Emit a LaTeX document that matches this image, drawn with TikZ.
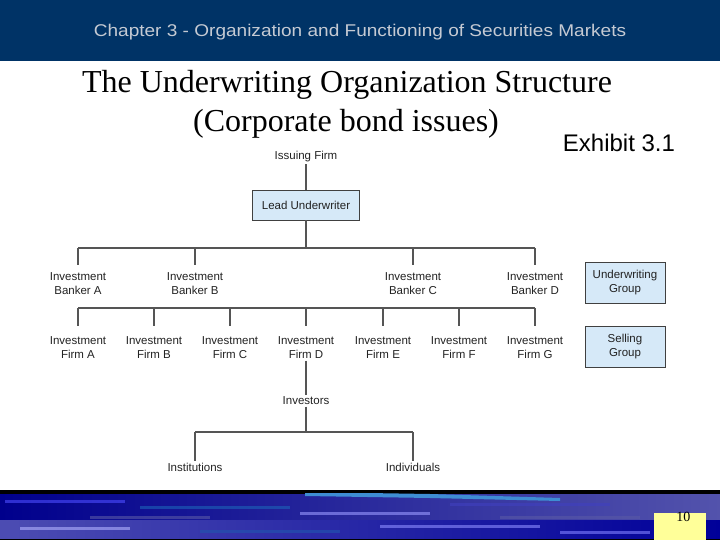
\documentclass[tikz,border=0pt]{standalone}
\usepackage{fontspec}
\setmainfont{Liberation Serif}
\setsansfont{Liberation Sans}
\newfontfamily\arialf{Liberation Sans}
\definecolor{hdr}{HTML}{003366}
\definecolor{hdrtxt}{HTML}{C5CAD3}
\definecolor{boxfill}{HTML}{D6E9F8}
\definecolor{linec}{HTML}{555555}
\definecolor{txtc}{HTML}{222222}
\definecolor{pgyel}{HTML}{FFFF99}
\begin{document}
\begin{tikzpicture}[x=1pt,y=-1pt,
  lbl/.style={font=\arialf\fontsize{11.5}{14}\selectfont, text=txtc, align=center, inner sep=1.5pt},
  gbox/.style={lbl, draw=black!75, fill=boxfill, line width=0.9pt, minimum width=80pt, minimum height=41pt},
  conn/.style={draw=linec, line width=1.2pt}]
\useasboundingbox (0,0) rectangle (720,540);
% header
\fill[hdr] (0,0) rectangle (720,61);
\node[text=hdrtxt, font=\arialf\fontsize{17}{19}\selectfont] (hdrt) at (360,32.5) {\scalebox{1.12}[1]{Chapter 3 - Organization and Functioning of Securities Markets}};
% title
\node[font=\fontsize{32}{36}\selectfont, text=black, align=center] (title1) at (347,85) {The Underwriting Organization Structure};
\node[font=\fontsize{32}{36}\selectfont, text=black] (title2) at (346,124) {(Corporate bond issues)};
\node[font=\arialf\fontsize{24}{28}\selectfont, text=black] (exh) at (619,143) {Exhibit 3.1};
% diagram
\node[lbl] (issuer) at (306,157) {Issuing Firm};
\node[gbox, minimum width=107pt, minimum height=30pt] (lead) at (306,205) {Lead Underwriter};
\coordinate (j1) at (306,248);
\draw[conn] (issuer.south) -- (lead.north);
\draw[conn] (lead.south) -- (j1);
\node[lbl] (bA) at (78,284) {Investment\\Banker A};
\node[lbl] (bB) at (195,284) {Investment\\Banker B};
\node[lbl] (bC) at (413,284) {Investment\\Banker C};
\node[lbl] (bD) at (535,284) {Investment\\Banker D};
\coordinate (hA) at (78,248);
\coordinate (hD) at (535,248);
\draw[conn] (hA) -- (hD);
\foreach \x in {78,195,413,535}{
  \draw[conn] (\x,248) -- (\x,265);
}
\node[lbl] (fA) at (78,348) {Investment\\Firm A};
\node[lbl] (fB) at (154,348) {Investment\\Firm B};
\node[lbl] (fC) at (230,348) {Investment\\Firm C};
\node[lbl] (fD) at (306,348) {Investment\\Firm D};
\node[lbl] (fE) at (383,348) {Investment\\Firm E};
\node[lbl] (fF) at (459,348) {Investment\\Firm F};
\node[lbl] (fG) at (535,348) {Investment\\Firm G};
\draw[conn] (78,308) -- (535,308);
\foreach \x in {78,154,230,306,383,459,535}{
  \draw[conn] (\x,308) -- (\x,326);
}
\node[lbl] (inv) at (306,401) {Investors};
\draw[conn] (fD.south) -- (inv.north);
\node[lbl] (inst) at (195,467) {Institutions};
\node[lbl] (indiv) at (413,467) {Individuals};
\coordinate (jl) at (195,432);
\coordinate (jr) at (413,432);
\draw[conn] (inv.south) -- (306,432);
\draw[conn] (jl) -- (jr);
\draw[conn] (jl) -- (inst.north);
\draw[conn] (jr) -- (indiv.north);
\node[gbox] (ug) at (625,282.5) {Underwriting\\Group};
\node[gbox] (sg) at (625,347) {Selling\\Group};
% footer
\fill[black] (0,490) rectangle (720,540);
\shade[left color=blue!55!black, right color=blue!35!gray] (0,494) rectangle (720,520);
\shade[left color=gray!60!blue, right color=blue!60!black] (0,520) rectangle (720,538);
\foreach \a/\b/\c/\w in {5/500/blue!70/120, 140/506/cyan!40!blue/150, 300/512/blue!40!white/130, 450/503/blue!50!gray/160, 20/527/blue!30!white/110, 200/530/cyan!30!blue/140, 380/525/blue!45!white/160, 560/531/blue!50/90, 90/516/gray!70!blue/120, 500/516/blue!30!gray/140}{
  \fill[\c, opacity=0.6] (\a,\b) rectangle ++(\w,3);
}
\fill[cyan!60!blue!80!white] (305,492) -- (430,494) -- (560,498) -- (560,501) -- (430,498) -- (305,496) -- cycle;
\fill[black] (0,490) rectangle (720,493);
\node[fill=pgyel, minimum width=52pt, minimum height=27pt, inner sep=0pt] (pg) at (680,526.5) {};
\node[font=\fontsize{14}{16}\selectfont, anchor=east] (pgn) at (694,517) {10};
\end{tikzpicture}
\end{document}
